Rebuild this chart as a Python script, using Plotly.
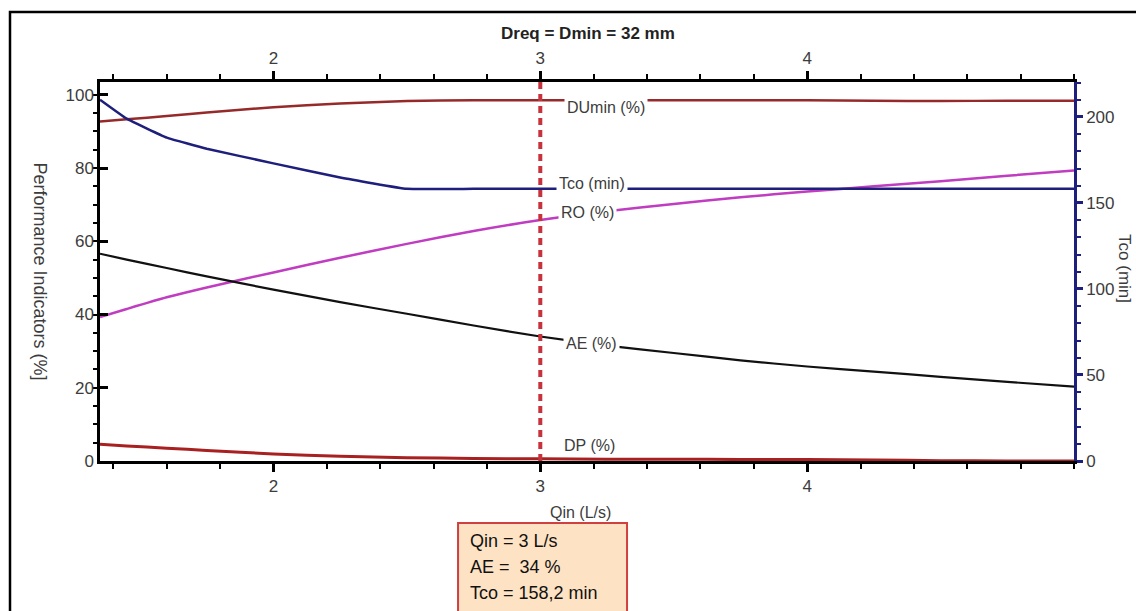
import plotly.graph_objects as go

# Inflow rate (L/s)
qin = [1.35, 1.45, 1.6, 1.75, 2.0, 2.25, 2.5, 2.75, 3.0, 3.25, 3.5, 3.75, 4.0, 4.25, 4.5, 4.75, 5.0]

# Performance indicators (%)
du_min = [92.7, 93.3, 94.2, 95.2, 96.6, 97.6, 98.3, 98.5, 98.5, 98.5, 98.5, 98.5, 98.5, 98.4, 98.3, 98.4, 98.4]
ro = [39.3, 41.5, 44.7, 47.4, 51.5, 55.5, 59.3, 62.8, 65.8, 68.2, 70.2, 72.0, 73.6, 75.0, 76.4, 77.9, 79.3]
ae = [56.6, 55.0, 52.7, 50.4, 46.8, 43.4, 40.2, 37.0, 34.0, 31.5, 29.5, 27.5, 25.8, 24.4, 23.0, 21.6, 20.3]
dp = [4.6, 4.1, 3.5, 2.9, 1.9, 1.3, 0.9, 0.7, 0.6, 0.5, 0.5, 0.4, 0.4, 0.3, 0.1, 0.0, 0.0]

# Cut-off time (min)
tco = [210.0, 199.0, 188.0, 181.5, 173.0, 164.8, 158.2, 158.2, 158.2, 158.2, 158.2, 158.2, 158.2, 158.2, 158.2, 158.2, 158.2]

# Selected operating point
q_sel = 3.0
ae_sel = 34
tco_sel = "158,2"

x_ticks = [2, 3, 4]
y_ticks = [0, 20, 40, 60, 80, 100]
y2_ticks = [0, 50, 100, 150, 200]

FONT = "Liberation Sans, Arial, sans-serif"
TXT = "#3c3c3c"
NAVY = "#1e1e7c"

fig = go.Figure()

fig.add_trace(go.Scatter(x=qin, y=du_min, mode="lines", line=dict(color="#962a2a", width=2.5, shape="spline", smoothing=0.6), name="DUmin (%)"))
fig.add_trace(go.Scatter(x=qin, y=tco, mode="lines", line=dict(color=NAVY, width=2.5, shape="spline", smoothing=0.3), name="Tco (min)", yaxis="y2"))
fig.add_trace(go.Scatter(x=qin, y=ro, mode="lines", line=dict(color="#c03cc0", width=2.5, shape="spline", smoothing=0.6), name="RO (%)"))
fig.add_trace(go.Scatter(x=qin, y=ae, mode="lines", line=dict(color="#111111", width=2.2, shape="spline", smoothing=0.6), name="AE (%)"))
fig.add_trace(go.Scatter(x=qin, y=dp, mode="lines", line=dict(color="#a82020", width=3, shape="spline", smoothing=0.6), name="DP (%)"))
# carrier for the top axis
fig.add_trace(go.Scatter(x=qin, y=ae, mode="lines", line=dict(width=0, color="rgba(0,0,0,0)"),
                         xaxis="x2", hoverinfo="skip", showlegend=False))

x_range = [1.35, 5.0]

axis_font = dict(family=FONT, size=17, color=TXT)

fig.update_layout(
    width=1136, height=611,
    margin=dict(l=100, r=62, t=82, b=150),
    paper_bgcolor="white", plot_bgcolor="white",
    showlegend=False,
    xaxis=dict(range=x_range, tickvals=x_ticks, showgrid=False, zeroline=False,
               showline=True, linecolor="black", linewidth=2.5,
               ticks="outside", ticklen=8, tickwidth=2.5, tickcolor="black",
               minor=dict(dtick=0.2, tick0=0, ticks="outside", ticklen=5, tickwidth=2, tickcolor="black", showgrid=False),
               tickfont=axis_font),
    xaxis2=dict(range=x_range, tickvals=x_ticks, overlaying="x", side="top", showgrid=False, zeroline=False,
                showline=True, linecolor="black", linewidth=2.5,
                ticks="outside", ticklen=8, tickwidth=2.5, tickcolor="black",
                minor=dict(dtick=0.2, tick0=0, ticks="outside", ticklen=5, tickwidth=2, tickcolor="black", showgrid=False),
                tickfont=axis_font),
    yaxis=dict(range=[0, 103.5], tickvals=y_ticks, showgrid=False, zeroline=False,
               showline=True, linecolor="black", linewidth=2.5,
               ticks="inside", ticklen=8, tickwidth=2.5, tickcolor="black",
               minor=dict(dtick=5, tick0=0, ticks="outside", ticklen=4, tickwidth=2, tickcolor="black", showgrid=False),
               tickfont=axis_font),
    yaxis2=dict(range=[0, 220.3], tickvals=y2_ticks, overlaying="y", side="right", showgrid=False, zeroline=False,
                showline=True, linecolor=NAVY, linewidth=2.5,
                ticks="outside", ticklen=6, tickwidth=2.5, tickcolor=NAVY,
                minor=dict(dtick=10, tick0=0, ticks="outside", ticklen=4, tickwidth=2, tickcolor=NAVY, showgrid=False),
                tickfont=axis_font),
)

# selected inflow marker
fig.add_shape(type="line", xref="x", yref="y", x0=q_sel, x1=q_sel, y0=0, y1=103.5,
              line=dict(color="#c8323c", width=4, dash="7px,5px"))

# outer frame
fig.add_shape(type="rect", xref="paper", yref="paper", x0=-0.0924, x1=1.08, y0=-0.43, y1=1.1847,
              line=dict(color="black", width=2.5), layer="above")

# curve labels
curve_labels = [
    ("DUmin (%)", 3.245, 96.6),
    ("Tco (min)", 3.195, 75.9),
    ("RO (%)", 3.175, 68.0),
    ("AE (%)", 3.19, 32.2),
    ("DP (%)", 3.186, 4.2),
]
for text, xv, yv in curve_labels:
    fig.add_annotation(x=xv, y=yv, xref="x", yref="y", text=text, showarrow=False,
                       xanchor="center", yanchor="middle",
                       font=dict(family=FONT, size=16, color=TXT), bgcolor="white", borderpad=2)

# title
fig.add_annotation(x=0.501, y=1.129, xref="paper", yref="paper", text="<b>Dreq = Dmin = 32 mm</b>",
                   xanchor="center", yanchor="middle",
                   showarrow=False, font=dict(family=FONT, size=17, color="#222222"))

# axis titles
fig.add_annotation(x=-0.0616, y=0.5, xref="paper", yref="paper", text="Performance Indicators (%]",
                   xanchor="center", yanchor="middle",
                   textangle=90, showarrow=False, font=dict(family=FONT, size=18, color=TXT))
fig.add_annotation(x=1.0524, y=0.509, xref="paper", yref="paper", text="Tco (min]",
                   xanchor="center", yanchor="middle",
                   textangle=90, showarrow=False, font=dict(family=FONT, size=17, color=TXT))
fig.add_annotation(x=0.4938, y=-0.1372, xref="paper", yref="paper", text="Qin (L/s)",
                   xanchor="center", yanchor="middle",
                   showarrow=False, font=dict(family=FONT, size=16, color=TXT))

# operating point box
fig.add_shape(type="rect", xref="paper", yref="paper", x0=0.3676, x1=0.5411, y0=-0.43, y1=-0.1636,
              fillcolor="#fde3c4", line=dict(color="#d04040", width=2), layer="above")
box_lines = [f"Qin = {q_sel:g} L/s", f"AE =  {ae_sel} %", f"Tco = {tco_sel} min"]
for i, line in enumerate(box_lines):
    fig.add_annotation(x=0.3778, y=-0.211 - i * 0.0686, xref="paper", yref="paper", text=line,
                       xanchor="left", yanchor="middle", showarrow=False,
                       font=dict(family=FONT, size=18, color="#111111"))

fig.write_html("out.html")
